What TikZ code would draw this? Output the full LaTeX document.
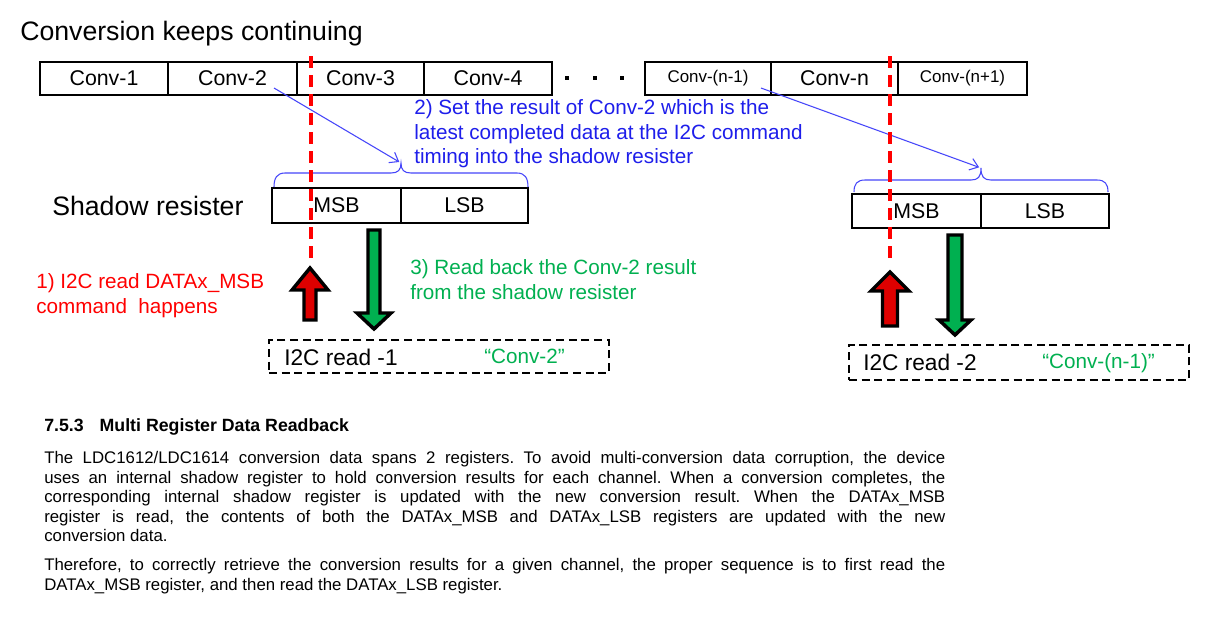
\documentclass[tikz,border=0pt]{standalone}
\usepackage{fontspec}
\setmainfont{Liberation Sans}
\usetikzlibrary{arrows.meta}
\definecolor{tblue}{RGB}{30,30,235}
\definecolor{lblue}{RGB}{70,70,250}
\definecolor{tred}{RGB}{255,0,0}
\definecolor{ared}{RGB}{222,0,0}
\definecolor{tgreen}{RGB}{0,176,80}
\definecolor{agreen}{RGB}{0,176,80}
\begin{document}
\frenchspacing
\begin{tikzpicture}[x=0.75pt,y=-0.75pt,
  cell/.style={draw, line width=1.1pt, minimum height=24.75pt, inner sep=0pt, font=\fontsize{16}{19}\selectfont},
  smallcell/.style={cell, font=\fontsize{12.7}{15}\selectfont},
  reg/.style={draw, line width=1.1pt, minimum height=25.5pt, inner sep=0pt, font=\fontsize{16}{19}\selectfont},
  lbl/.style={anchor=base west, inner sep=0pt},
  note/.style={anchor=north west, inner sep=0pt, align=left, font=\fontsize{15.5}{18.6}\selectfont},
  dbox/.style={draw, line width=1.5pt, dash pattern=on 6pt off 3.5pt, minimum width=255pt, inner sep=0pt},
  bracel/.style={draw=lblue, line width=0.8pt},
  barrow/.style={draw=lblue, line width=0.8pt, -{Straight Barb[length=6pt,width=9pt]}, shorten >=1.5pt},
  rdash/.style={draw=tred, line width=2.3pt, dash pattern=on 9pt off 5.25pt},
  blk/.style={draw=black, line width=2.6pt, line join=miter},
  body/.style={anchor=north west, inner sep=0pt, text width=675.75pt, align=justify, font=\fontsize{12.6}{14.6}\selectfont}
]
\fill[white] (0,0) rectangle (1230,619);
\useasboundingbox (0,0) rectangle (1230,619);

% title
\node[lbl, font=\fontsize{20}{24}\selectfont] (title) at (20,40) {Conversion keeps continuing};

% conversion sequence
\node[cell, minimum width=96pt] (c1) at (104,78.5) {Conv-1};
\node[cell, minimum width=96.75pt] (c2) at (232.5,78.5) {Conv-2};
\node[cell, minimum width=95.25pt] (c3) at (360.5,78.5) {Conv-3};
\node[cell, minimum width=96pt] (c4) at (488,78.5) {Conv-4};
\fill (564.5,76) rectangle +(4,4);
\fill (592.5,76) rectangle +(4,4);
\fill (620,76) rectangle +(4,4);
\node[smallcell, minimum width=94.5pt] (cn1) at (708,78.5) {Conv-(n-1)};
\node[cell, minimum width=95.25pt] (cn) at (834.5,78.5) {Conv-n};
\node[smallcell, minimum width=96.75pt] (cnp) at (962.5,78.5) {Conv-(n+1)};

% shadow registers
\node[lbl, font=\fontsize{20}{24}\selectfont] (shlbl) at (52,215) {Shadow resister};
\node[reg, minimum width=96.75pt, minimum height=26.25pt] (msb1) at (336.5,205.5) {MSB};
\node[reg, minimum width=95.25pt, minimum height=26.25pt] (lsb1) at (464.5,205.5) {LSB};
\node[reg, minimum width=96.75pt] (msb2) at (916.5,211) {MSB};
\node[reg, minimum width=96pt] (lsb2) at (1045,211) {LSB};

% braces
\draw[bracel] (274,187) .. controls (274,178) and (277,173) .. (285,173) -- (391,173)
  .. controls (398,173) and (401,170) .. (401,163)
  .. controls (401,170) and (404,173) .. (411,173) -- (517,173)
  .. controls (525,173) and (528,178) .. (528,187);
\coordinate (bt1) at (401,163);
\draw[bracel] (854,192) .. controls (854,184) and (857,180) .. (865,180) -- (971,180)
  .. controls (978,180) and (981,177) .. (981,168)
  .. controls (981,177) and (984,180) .. (991,180) -- (1097,180)
  .. controls (1105,180) and (1108,184) .. (1108,192);
\coordinate (bt2) at (981,168);

% blue arrows
\coordinate (a1s) at (274,88);
\coordinate (a2s) at (761,88);
\draw[barrow] (a1s) -- (bt1);
\draw[barrow] (a2s) -- (bt2);

% blue note
\node[note, text=tblue] (note2) at (414,99) {2) Set the result of Conv-2 which is the\\latest completed data at the I2C command\\timing into the shadow resister};

% red dashed timing lines
\coordinate (rt1) at (311,56);
\coordinate (rb1) at (311,262);
\coordinate (rt2) at (890,56);
\coordinate (rb2) at (890,262);
\draw[rdash] (rt1) -- (rb1);
\draw[rdash] (rt2) -- (rb2);

% block arrows
\draw[blk, fill=ared] (304,320) -- (304,290) -- (292,290) -- (310,268) -- (328,290) -- (316,290) -- (316,320) -- cycle;
\draw[blk, fill=agreen] (368,230) -- (368,313) -- (357,313) -- (374,329) -- (391,313) -- (380,313) -- (380,230) -- cycle;
\draw[blk, fill=ared] (882.5,326) -- (882.5,291) -- (871,291) -- (890,272) -- (909,291) -- (897.5,291) -- (897.5,326) -- cycle;
\draw[blk, fill=agreen] (948,235) -- (948,320) -- (939,320) -- (955,335) -- (971,320) -- (962,320) -- (962,235) -- cycle;

% red and green notes
\node[note, text=tred] (note1) at (36,273) {1) I2C read DATAx\_MSB\\command\ \ happens};
\node[note, text=tgreen] (note3) at (410,259) {3) Read back the Conv-2 result\\from the shadow resister};

% I2C read boxes
\node[dbox, minimum height=24.75pt] (rd1) at (439,356.5) {};
\node[dbox, minimum height=26.25pt] (rd2) at (1019,362.5) {};
\node[lbl, font=\fontsize{17}{20}\selectfont] (r1t) at (284,365) {I2C read -1};
\node[lbl, text=tgreen, font=\fontsize{15.5}{18}\selectfont] (r1v) at (484,363) {“Conv-2”};
\node[lbl, font=\fontsize{17}{20}\selectfont] (r2t) at (863,370) {I2C read -2};
\node[lbl, text=tgreen, font=\fontsize{15.5}{18}\selectfont] (r2v) at (1042,368) {“Conv-(n-1)”};

% datasheet excerpt
\node[lbl, font=\fontsize{13.3}{16}\selectfont\bfseries] (head) at (44,431) {7.5.3\hspace{12pt}Multi Register Data Readback};
\node[body] (para1) at (44,451.3) {The LDC1612/LDC1614 conversion data spans 2 registers. To avoid multi-conversion data corruption, the device\linebreak
uses an internal shadow register to hold conversion results for each channel. When a conversion completes, the\linebreak
corresponding internal shadow register is updated with the new conversion result. When the DATAx\_MSB\linebreak
register is read, the contents of both the DATAx\_MSB and DATAx\_LSB registers are updated with the new\linebreak
conversion data.};
\node[body] (para2) at (44,558.3) {Therefore, to correctly retrieve the conversion results for a given channel, the proper sequence is to first read the\linebreak
DATAx\_MSB register, and then read the DATAx\_LSB register.};
\end{tikzpicture}
\end{document}
